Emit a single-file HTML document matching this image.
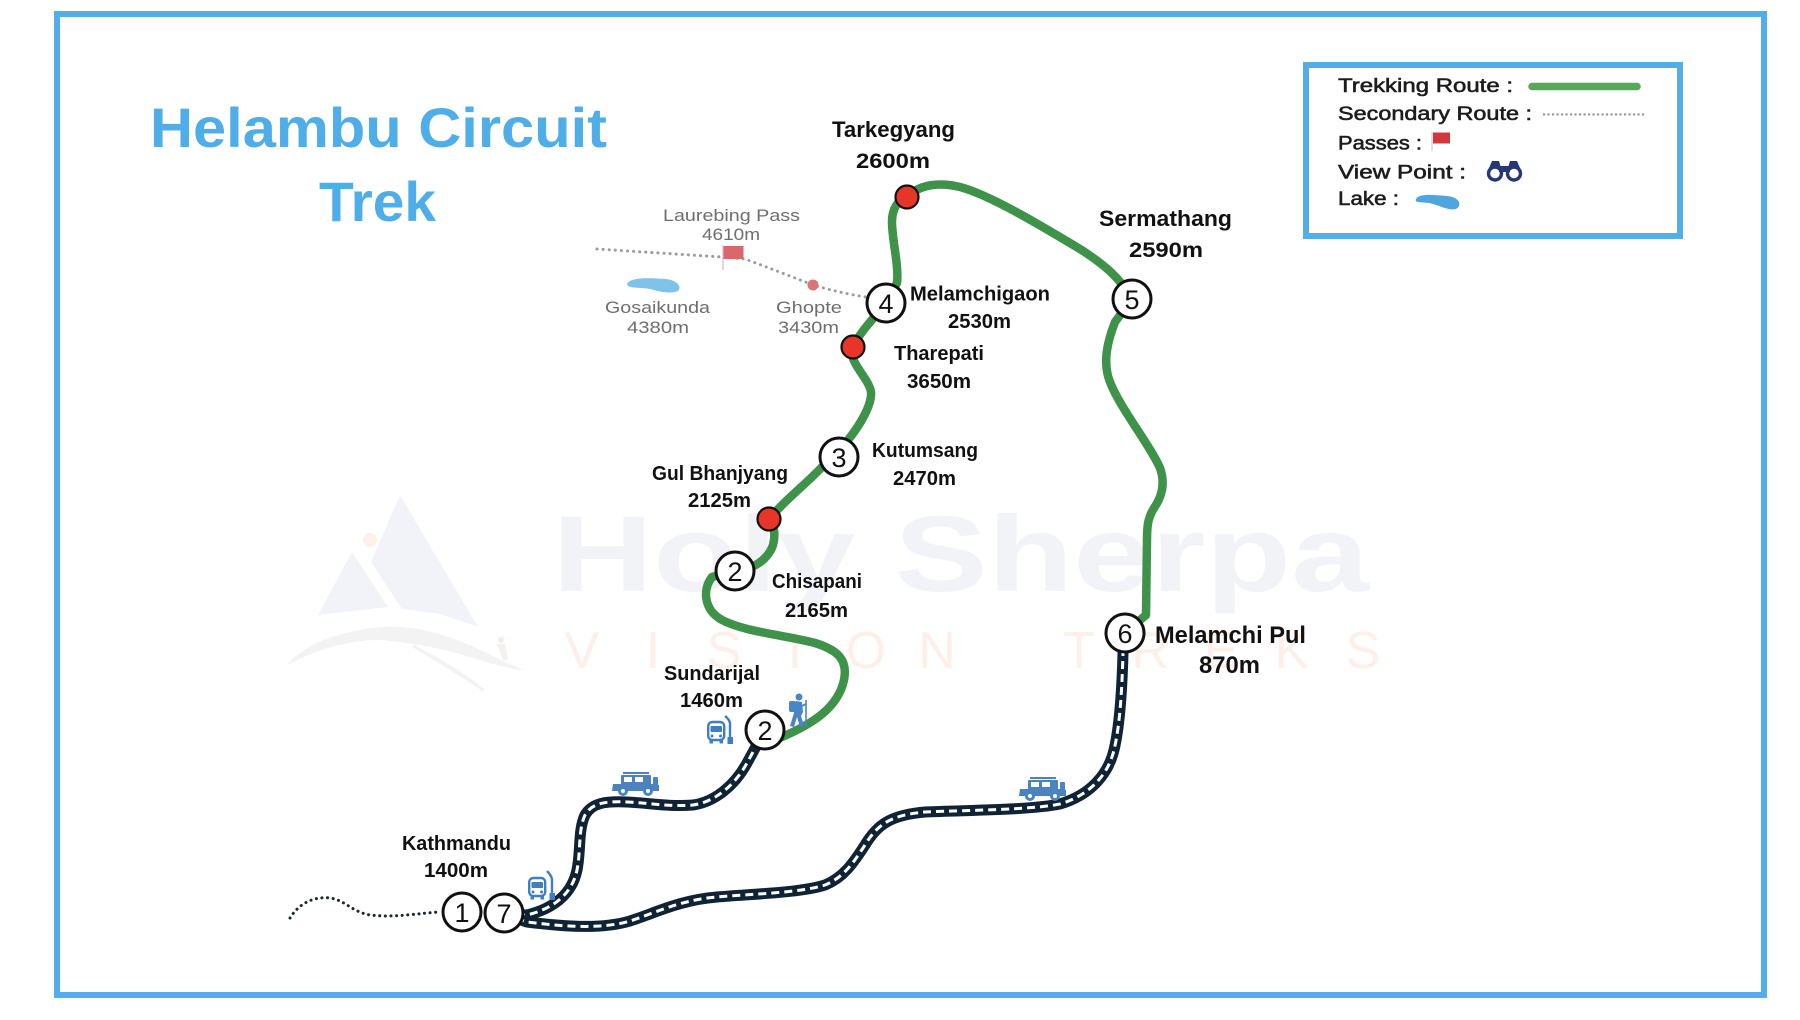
<!DOCTYPE html>
<html>
<head>
<meta charset="utf-8">
<style>
  html,body{margin:0;padding:0;background:#fff;}
  svg{display:block;}
  text{font-family:"Liberation Sans", sans-serif;}
  .lbl{font-weight:bold;fill:#111;}
  .gry{fill:#6e6e6e;}
  .num{font-size:27px;fill:#111;text-anchor:middle;}
  .leg{font-size:19px;fill:#1c1c1c;stroke:#1c1c1c;stroke-width:0.55;}
</style>
</head>
<body>
<svg width="1800" height="1020" viewBox="0 0 1800 1020" xmlns="http://www.w3.org/2000/svg">
  <rect x="0" y="0" width="1800" height="1020" fill="#fff"/>

  <!-- Watermark logo -->
  <g>
    <polygon points="400,495 478,627 440,614 402,609 371,562" fill="#f1f3f9"/>
    <polygon points="352,552 388,607 318,615" fill="#f1f3f9"/>
    <circle cx="370" cy="540" r="7" fill="#fdf1e8"/>
    <path d="M287 665 C305 645,330 633,380 627 C420 624,460 640,485 652 C500 660,515 666,523 670 C505 668,485 662,470 657 C440 648,410 642,380 640 C350 640,320 648,287 665 Z" fill="#f3f3f3"/>
    <path d="M413 646 C440 660,465 675,483 690 C470 680,440 662,413 646 Z" fill="#f3f3f3" stroke="#f3f3f3" stroke-width="3"/>
    <circle cx="501" cy="640" r="3" fill="#f7ebe6"/>
    <path d="M497 644 L505 644 L508 660 L503 660 Z" fill="#f3f0f0"/>
  </g>
  <text x="552" y="591" font-size="108" font-weight="bold" fill="#f2f3f6" textLength="817" lengthAdjust="spacingAndGlyphs">Holy Sherpa</text>
  <g font-family="Liberation Serif, serif" font-size="52" fill="#fcf0e8" text-anchor="middle" style="font-family:'Liberation Serif',serif;">
    <text x="582" y="668">V</text>
    <text x="653" y="668">I</text>
    <text x="724" y="668">S</text>
    <text x="795" y="668">I</text>
    <text x="866" y="668">O</text>
    <text x="937" y="668">N</text>
    <text x="1079" y="668">T</text>
    <text x="1150" y="668">R</text>
    <text x="1221" y="668">E</text>
    <text x="1292" y="668">K</text>
    <text x="1363" y="668">S</text>
  </g>

  <!-- Outer border -->
  <rect x="57" y="14" width="1707" height="981" fill="none" stroke="#52ade8" stroke-width="6"/>

  <!-- Title -->
  <text x="150" y="147" font-size="56" font-weight="bold" fill="#4faee8" textLength="457" lengthAdjust="spacingAndGlyphs">Helambu Circuit</text>
  <text x="319" y="221" font-size="56" font-weight="bold" fill="#4faee8" textLength="117" lengthAdjust="spacingAndGlyphs">Trek</text>

  <!-- Legend -->
  <rect x="1306" y="65" width="374" height="171" fill="#fff" stroke="#52ade8" stroke-width="6"/>
  <text class="leg" x="1338" y="92" textLength="175" lengthAdjust="spacingAndGlyphs">Trekking Route :</text>
  <line x1="1532" y1="86.5" x2="1637" y2="86.5" stroke="#5aa65a" stroke-width="7.5" stroke-linecap="round"/>
  <text class="leg" x="1338" y="120" textLength="194" lengthAdjust="spacingAndGlyphs">Secondary Route :</text>
  <line x1="1544" y1="114.5" x2="1647" y2="114.5" stroke="#9a9a9a" stroke-width="2.4" stroke-dasharray="0.1 4.4" stroke-linecap="round"/>
  <text class="leg" x="1338" y="149.5" textLength="84" lengthAdjust="spacingAndGlyphs">Passes :</text>
  <line x1="1432" y1="131.5" x2="1432" y2="151" stroke="#d8d8d8" stroke-width="1.6"/>
  <rect x="1433" y="132.5" width="17" height="11" fill="#d0383c"/>
  <text class="leg" x="1338" y="178.5" textLength="128" lengthAdjust="spacingAndGlyphs">View Point :</text>
  <g fill="none" stroke="#253775" stroke-width="3.4">
    <circle cx="1495" cy="173.5" r="6.5"/>
    <circle cx="1514" cy="173.5" r="6.5"/>
  </g>
  <path d="M1489 168 L1492 161 L1499 161 L1501 168 Z M1508 168 L1510 161 L1517 161 L1520 168 Z M1499 166 L1510 166 L1510 172 L1499 172 Z" fill="#253775"/>
  <text class="leg" x="1338" y="205" textLength="61" lengthAdjust="spacingAndGlyphs">Lake :</text>
  <path d="M1416 199 C1419 193,1434 195,1447 196 C1459 197,1463 205,1456 209 C1448 211,1439 205,1429 203 C1421 202,1414 203,1416 199 Z" fill="#4fa6df"/>

  <!-- Secondary (gray dotted) route -->
  <path d="M597 249 L722 257 L745 259 Q780 272 813 285 Q840 293 866 297" fill="none" stroke="#9c9c9c" stroke-width="3" stroke-dasharray="0.1 6" stroke-linecap="round"/>
  <line x1="723" y1="245" x2="723" y2="270" stroke="#cfcfcf" stroke-width="1.5"/>
  <rect x="723.5" y="246" width="20" height="13" fill="#d9676c"/>
  <circle cx="813" cy="285" r="5.5" fill="#d97478"/>
  <path d="M627 284 C630 277,650 278,665 279 C678 280,682 287,678 291 C672 294,660 292,650 289 C640 287,628 289,627 284 Z" fill="#7fc3ea"/>

  <!-- Gray labels -->
  <text class="gry" x="663" y="221" font-size="17" textLength="137" lengthAdjust="spacingAndGlyphs">Laurebing Pass</text>
  <text class="gry" x="702" y="240" font-size="17" textLength="58" lengthAdjust="spacingAndGlyphs">4610m</text>
  <text class="gry" x="605" y="313" font-size="17" textLength="105" lengthAdjust="spacingAndGlyphs">Gosaikunda</text>
  <text class="gry" x="627" y="333" font-size="17" textLength="62" lengthAdjust="spacingAndGlyphs">4380m</text>
  <text class="gry" x="776" y="313" font-size="17" textLength="66" lengthAdjust="spacingAndGlyphs">Ghopte</text>
  <text class="gry" x="778" y="333" font-size="17" textLength="61" lengthAdjust="spacingAndGlyphs">3430m</text>

  <!-- Kathmandu dotted tail -->
  <path d="M290 918 C298 905,312 896,330 898 C345 900,352 912,370 915 C395 918,420 913,440 912" fill="none" stroke="#1d2530" stroke-width="3" stroke-dasharray="0.1 5.5" stroke-linecap="round"/>

  <!-- Green trekking route -->
  <path d="M782 737 C812 724,838 708,844 680 C848 660,838 650,815 643 C785 635,745 632,722 620 C704 610,702 590,712 577 L735 571 C752 570,768 560,773 545 C776 533,774 525,769 519 C785 500,805 485,822 467 L839 457 L848 440 C860 425,872 405,871 392 C869 380,855 368,852 355 L853 347 C858 335,872 320,886 303 L897 283 C899 265,892 240,892 222 C892 210,897 200,907 197 C920 184,940 182,960 187 C990 195,1040 225,1080 249 C1105 265,1120 278,1132 299 L1115 322 C1108 340,1102 362,1110 382 C1120 408,1150 445,1160 468 C1165 482,1163 495,1154 508 C1148 518,1147 525,1147 540 L1146 615 L1125 633" fill="none" stroke="#3f924a" stroke-width="8.5" stroke-linecap="round" stroke-linejoin="round"/>

  <!-- Roads -->
  <g fill="none">
    <path id="r1" d="M504 914 L527 915 C552 909,572 895,577 870 C581 850,578 830,585 815 C592 803,605 801,627 802 C650 803,670 807,693 805 C715 802,735 785,747 763 L765 730" stroke="#0f2334" stroke-width="11" stroke-linejoin="round"/>
    <path d="M504 914 L527 915 C552 909,572 895,577 870 C581 850,578 830,585 815 C592 803,605 801,627 802 C650 803,670 807,693 805 C715 802,735 785,747 763 L765 730" stroke="#fff" stroke-width="3" stroke-dasharray="8 5"/>
    <path d="M504 914 L527 922 C560 926,600 930,630 921 C655 913,680 900,717 897 C750 894,800 893,825 885 C845 877,855 860,865 845 C877 825,890 815,925 812 C970 810,1030 810,1060 804 C1090 795,1108 775,1114 750 C1120 725,1122 690,1123 653 L1125 633" stroke="#0f2334" stroke-width="11" stroke-linejoin="round"/>
    <path d="M504 914 L527 922 C560 926,600 930,630 921 C655 913,680 900,717 897 C750 894,800 893,825 885 C845 877,855 860,865 845 C877 825,890 815,925 812 C970 810,1030 810,1060 804 C1090 795,1108 775,1114 750 C1120 725,1122 690,1123 653 L1125 633" stroke="#fff" stroke-width="3" stroke-dasharray="8 5"/>
  </g>

  <!-- Bus icons -->
  <g transform="translate(707,716)" fill="#3d7fc2">
    <rect x="1.2" y="6" width="16" height="18" rx="4" fill="none" stroke="#3d7fc2" stroke-width="2.4"/>
    <rect x="3.5" y="10" width="11.5" height="6" rx="1"/>
    <circle cx="5" cy="20" r="1.5"/><circle cx="13.5" cy="20" r="1.5"/>
    <rect x="2.5" y="24" width="3.5" height="3.5"/><rect x="12.5" y="24" width="3.5" height="3.5"/>
    <path d="M23 26 L23 7 Q22 3 18 0" fill="none" stroke="#3d7fc2" stroke-width="2.4"/>
    <rect x="20.5" y="21" width="5.5" height="7"/>
  </g>
  <g transform="translate(528,871)" fill="#3d7fc2">
    <rect x="1.2" y="7" width="16" height="18" rx="4" fill="none" stroke="#3d7fc2" stroke-width="2.4"/>
    <rect x="3.5" y="11" width="11.5" height="6" rx="1"/>
    <circle cx="5" cy="21" r="1.5"/><circle cx="13.5" cy="21" r="1.5"/>
    <rect x="2.5" y="25" width="3.5" height="3.5"/><rect x="12.5" y="25" width="3.5" height="3.5"/>
    <path d="M24 27 L24 8 Q23 4 19 0" fill="none" stroke="#3d7fc2" stroke-width="2.4"/>
    <rect x="21.5" y="22" width="5.5" height="7"/>
  </g>

  <!-- Jeep icons -->
  <g transform="translate(612,772)" fill="#4a83be">
    <rect x="11" y="0" width="26" height="2"/>
    <rect x="9" y="3" width="30" height="10" rx="1"/>
    <rect x="12" y="5" width="8" height="5" fill="#fff"/>
    <rect x="23" y="5" width="8" height="5" fill="#fff"/>
    <path d="M1 12 L43 12 L47 13 L47 19 L0 19 Z"/>
    <rect x="41" y="5" width="5" height="9" rx="1"/>
    <circle cx="11" cy="19" r="5"/><circle cx="11" cy="19" r="2" fill="#fff"/>
    <circle cx="36" cy="19" r="5"/><circle cx="36" cy="19" r="2" fill="#fff"/>
  </g>
  <g transform="translate(1019,777)" fill="#4a83be">
    <rect x="11" y="0" width="26" height="2"/>
    <rect x="9" y="3" width="30" height="10" rx="1"/>
    <rect x="12" y="5" width="8" height="5" fill="#fff"/>
    <rect x="23" y="5" width="8" height="5" fill="#fff"/>
    <path d="M1 12 L43 12 L47 13 L47 19 L0 19 Z"/>
    <rect x="41" y="5" width="5" height="9" rx="1"/>
    <circle cx="11" cy="19" r="5"/><circle cx="11" cy="19" r="2" fill="#fff"/>
    <circle cx="36" cy="19" r="5"/><circle cx="36" cy="19" r="2" fill="#fff"/>
  </g>

  <!-- Hiker -->
  <g fill="#4a86c5">
    <circle cx="799" cy="697" r="3.5"/>
    <rect x="789" y="701" width="7" height="11" rx="2"/>
    <path d="M796 701 L802 702 L803 712 L801 716 L804 726 L800 727 L797 717 L794 727 L790 726 L794 713 Z"/>
    <line x1="806" y1="700" x2="806" y2="727" stroke="#4a86c5" stroke-width="1.6"/>
    <line x1="802" y1="706" x2="806" y2="704" stroke="#4a86c5" stroke-width="2"/>
  </g>

  <!-- Red pass dots -->
  <g fill="#e8352a" stroke="#111" stroke-width="2.2">
    <circle cx="907" cy="197" r="11.5"/>
    <circle cx="853" cy="347" r="11.5"/>
    <circle cx="769" cy="519" r="11.5"/>
  </g>

  <!-- Numbered nodes -->
  <g fill="#fff" stroke="#111" stroke-width="3">
    <circle cx="462" cy="912" r="19"/>
    <circle cx="504" cy="913" r="19"/>
    <circle cx="765" cy="730" r="19"/>
    <circle cx="735" cy="571" r="19"/>
    <circle cx="839" cy="457" r="19"/>
    <circle cx="886" cy="303" r="19"/>
    <circle cx="1132" cy="299" r="19"/>
    <circle cx="1125" cy="633" r="19"/>
  </g>
  <text class="num" x="462" y="922">1</text>
  <text class="num" x="504" y="923">7</text>
  <text class="num" x="765" y="740">2</text>
  <text class="num" x="735" y="581">2</text>
  <text class="num" x="839" y="467">3</text>
  <text class="num" x="886" y="313">4</text>
  <text class="num" x="1132" y="309">5</text>
  <text class="num" x="1125" y="643">6</text>

  <!-- Bold labels -->
  <text class="lbl" x="832" y="137" font-size="22" textLength="123" lengthAdjust="spacingAndGlyphs">Tarkegyang</text>
  <text class="lbl" x="856" y="168" font-size="21" textLength="74" lengthAdjust="spacingAndGlyphs">2600m</text>
  <text class="lbl" x="1099" y="226" font-size="22" textLength="133" lengthAdjust="spacingAndGlyphs">Sermathang</text>
  <text class="lbl" x="1129" y="257" font-size="21" textLength="74" lengthAdjust="spacingAndGlyphs">2590m</text>
  <text class="lbl" x="910" y="300.5" font-size="20" textLength="140" lengthAdjust="spacingAndGlyphs">Melamchigaon</text>
  <text class="lbl" x="948" y="328" font-size="20" textLength="63" lengthAdjust="spacingAndGlyphs">2530m</text>
  <text class="lbl" x="894" y="360" font-size="20" textLength="90" lengthAdjust="spacingAndGlyphs">Tharepati</text>
  <text class="lbl" x="907" y="388" font-size="20" textLength="64" lengthAdjust="spacingAndGlyphs">3650m</text>
  <text class="lbl" x="872" y="457" font-size="20" textLength="106" lengthAdjust="spacingAndGlyphs">Kutumsang</text>
  <text class="lbl" x="893" y="485" font-size="20" textLength="63" lengthAdjust="spacingAndGlyphs">2470m</text>
  <text class="lbl" x="652" y="480" font-size="20" textLength="136" lengthAdjust="spacingAndGlyphs">Gul Bhanjyang</text>
  <text class="lbl" x="688" y="507" font-size="20" textLength="63" lengthAdjust="spacingAndGlyphs">2125m</text>
  <text class="lbl" x="772" y="588" font-size="20" textLength="90" lengthAdjust="spacingAndGlyphs">Chisapani</text>
  <text class="lbl" x="785" y="617" font-size="20" textLength="63" lengthAdjust="spacingAndGlyphs">2165m</text>
  <text class="lbl" x="664" y="680" font-size="20" textLength="96" lengthAdjust="spacingAndGlyphs">Sundarijal</text>
  <text class="lbl" x="680" y="707" font-size="20" textLength="63" lengthAdjust="spacingAndGlyphs">1460m</text>
  <text class="lbl" x="402" y="850" font-size="20" textLength="109" lengthAdjust="spacingAndGlyphs">Kathmandu</text>
  <text class="lbl" x="424" y="877" font-size="20" textLength="64" lengthAdjust="spacingAndGlyphs">1400m</text>
  <text class="lbl" x="1155" y="643" font-size="24" textLength="151" lengthAdjust="spacingAndGlyphs">Melamchi Pul</text>
  <text class="lbl" x="1199" y="673" font-size="24" textLength="61" lengthAdjust="spacingAndGlyphs">870m</text>
</svg>
</body>
</html>
